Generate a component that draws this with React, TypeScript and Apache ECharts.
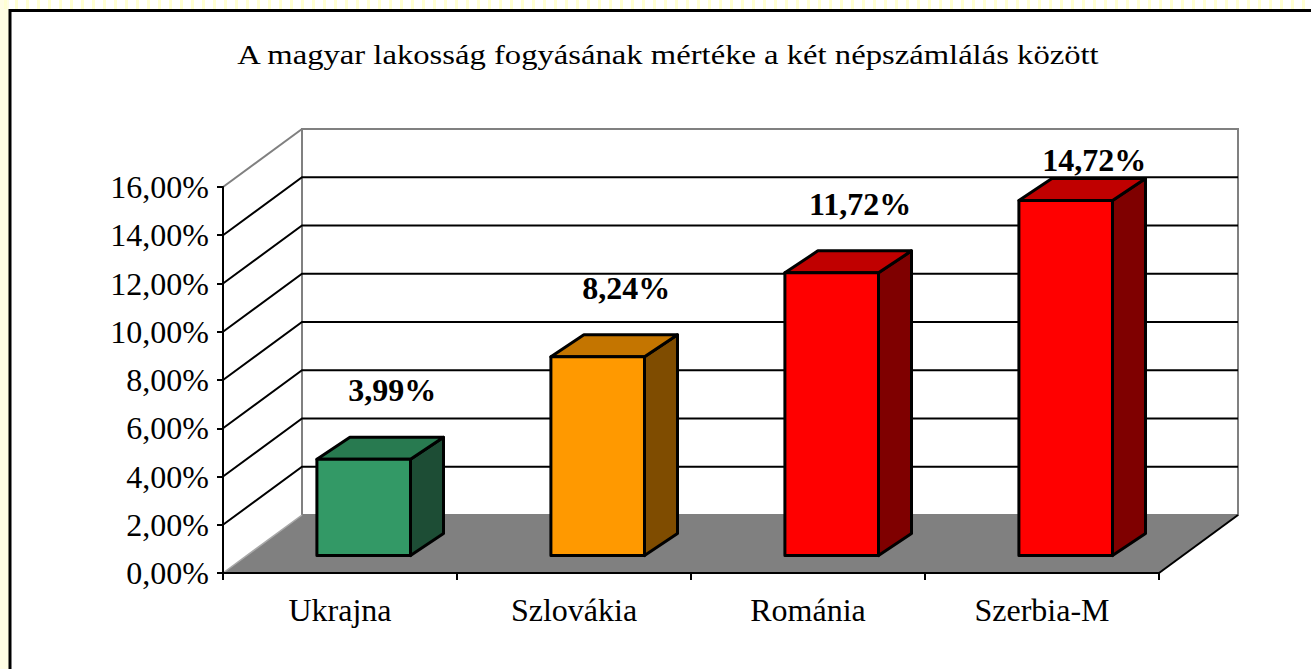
import React, { useEffect, useRef } from "react";
import * as echarts from "echarts";

const titleText = "A magyar lakosság fogyásának mértéke a két népszámlálás között";
const categories = ["Ukrajna", "Szlovákia", "Románia", "Szerbia-M"];
const values = [0.0399, 0.0824, 0.1172, 0.1472];
const valueLabels = ["3,99%", "8,24%", "11,72%", "14,72%"];
const frontColors = ["#339966", "#FF9900", "#FF0000", "#FF0000"];
const topColors = ["#287A50", "#C47500", "#C00000", "#C00000"];
const sideColors = ["#1D4D35", "#7F4C00", "#7F0000", "#7F0000"];
const yTicks = [0, 0.02, 0.04, 0.06, 0.08, 0.1, 0.12, 0.14, 0.16];

const FONT = "'Liberation Serif', 'Times New Roman', serif";
const DX = 79;
const DY = -58;
const F0 = 0.3;
const BDX = 33;
const BDY = -22;
const BAR_RATIO = 0.4;

export default function App() {
  const ref = useRef<HTMLDivElement>(null);
  useEffect(() => {
    const chart = echarts.init(ref.current!, null, { renderer: "svg" });

    const stripes: any[] = [];
    for (let x = 4; x < 1311; x += 11) {
      stripes.push({ type: "rect", shape: { x, y: 0, width: 3, height: 9 }, style: { fill: "#FFFFD2" }, silent: true });
    }

    const option: any = {
      animation: false,
      backgroundColor: "#ffffff",
      graphic: [
        { type: "rect", shape: { x: 0, y: 0, width: 9, height: 669 }, style: { fill: "#FFFDE4" }, silent: true },
        ...stripes,
        {
          type: "rect",
          shape: { x: 10, y: 10.5, width: 1400, height: 800 },
          style: { fill: "none", stroke: "#000", lineWidth: 3 },
          silent: true,
          z: 100,
        },
        {
          type: "text",
          x: 668,
          y: 55,
          scaleX: 1.21,
          silent: true,
          style: {
            text: titleText,
            fontFamily: FONT,
            fontSize: 27,
            fill: "#000",
            align: "center",
            verticalAlign: "middle",
          },
        },
      ],
      grid: { left: 223, top: 187, width: 936, height: 386 },
      xAxis: {
        type: "category",
        data: categories,
        boundaryGap: true,
        axisLine: { show: true, lineStyle: { color: "#000", width: 2 } },
        axisTick: { show: true, length: 7, lineStyle: { color: "#000", width: 2 } },
        axisLabel: { fontFamily: FONT, fontSize: 32, color: "#000", margin: 21 },
        z: 10,
      },
      yAxis: {
        type: "value",
        min: 0,
        max: 0.16,
        interval: 0.02,
        axisLine: { show: true, lineStyle: { color: "#000", width: 2 } },
        axisTick: { show: true, length: 6, lineStyle: { color: "#000", width: 2 } },
        splitLine: { show: false },
        axisLabel: {
          fontFamily: FONT,
          fontSize: 32,
          color: "#000",
          margin: 14,
          formatter: (v: number) => (v * 100).toFixed(2).replace(".", ",") + "%",
        },
        z: 10,
      },
      series: [
        {
          type: "custom",
          name: "frame",
          z: 1,
          silent: true,
          data: [[0, 0]],
          renderItem: (params: any, api: any) => {
            const cs = params.coordSys;
            const x0 = cs.x;
            const x1 = cs.x + cs.width;
            const yb = api.coord([0, 0])[1];
            const yt = api.coord([0, yTicks[yTicks.length - 1]])[1];
            const children: any[] = [];
            children.push({
              type: "polygon",
              shape: { points: [[x0, yb], [x1, yb], [x1 + DX, yb + DY], [x0 + DX, yb + DY]] },
              style: { fill: "#808080", stroke: "#a0a0a0", lineWidth: 1 },
            });
            children.push({
              type: "polygon",
              shape: { points: [[x0, yt], [x0 + DX, yt + DY], [x0 + DX, yb + DY], [x0, yb]] },
              style: { fill: "#ffffff", stroke: "none" },
            });
            children.push({
              type: "rect",
              shape: { x: x0 + DX, y: yt + DY, width: x1 - x0, height: yb - yt },
              style: { fill: "#ffffff", stroke: "#808080", lineWidth: 2 },
            });
            yTicks.forEach((t, i) => {
              if (i === 0 || i === yTicks.length - 1) return;
              const y = api.coord([0, t])[1];
              children.push({
                type: "polyline",
                shape: { points: [[x0, y], [x0 + DX, y + DY], [x1 + DX, y + DY]] },
                style: { fill: "none", stroke: "#000", lineWidth: 2 },
              });
            });
            children.push({
              type: "line",
              shape: { x1: x0, y1: yt, x2: x0 + DX, y2: yt + DY },
              style: { stroke: "#808080", lineWidth: 2 },
            });
            children.push({
              type: "line",
              shape: { x1: x0, y1: yb, x2: x0 + DX, y2: yb + DY },
              style: { stroke: "#a8a8a8", lineWidth: 1.5 },
            });
            children.push({
              type: "line",
              shape: { x1: x1, y1: yb, x2: x1 + DX, y2: yb + DY },
              style: { stroke: "#000", lineWidth: 2 },
            });
            return { type: "group", children };
          },
        },
        {
          type: "custom",
          name: "bars",
          z: 5,
          data: values.map((v, i) => [i, v]),
          renderItem: (params: any, api: any) => {
            const idx = params.dataIndex;
            const v = api.value(1);
            const base = api.coord([api.value(0), 0]);
            const topP = api.coord([api.value(0), v]);
            const w = api.size([1, 0])[0] * BAR_RATIO;
            const x0 = base[0] - w / 2 + DX * F0;
            const x1 = x0 + w;
            const yb = base[1] + DY * F0;
            const yt = topP[1] + DY * F0;
            const gridTop = params.coordSys.y;
            const stroke = { stroke: "#000", lineWidth: 3, lineJoin: "round" };
            const labelY = Math.max(yt + BDY - 47, gridTop - 27);
            return {
              type: "group",
              children: [
                {
                  type: "polygon",
                  shape: { points: [[x1, yt], [x1 + BDX, yt + BDY], [x1 + BDX, yb + BDY], [x1, yb]] },
                  style: { fill: sideColors[idx], ...stroke },
                },
                {
                  type: "polygon",
                  shape: { points: [[x0, yt], [x1, yt], [x1 + BDX, yt + BDY], [x0 + BDX, yt + BDY]] },
                  style: { fill: topColors[idx], ...stroke },
                },
                {
                  type: "rect",
                  shape: { x: x0, y: yt, width: w, height: yb - yt },
                  style: { fill: frontColors[idx], ...stroke },
                },
                {
                  type: "text",
                  x: x0 + w / 2 + BDX / 2 + 12,
                  y: labelY,
                  style: {
                    text: valueLabels[idx],
                    fontFamily: FONT,
                    fontSize: 32,
                    fontWeight: "bold",
                    fill: "#000",
                    align: "center",
                    verticalAlign: "middle",
                  },
                },
              ],
            };
          },
        },
      ],
    };
    chart.setOption(option);
    return () => chart.dispose();
  }, []);
  return (
    <div
      ref={ref}
      style={{ position: "fixed", left: 0, top: 0, width: 1311, height: 669 }}
    />
  );
}
